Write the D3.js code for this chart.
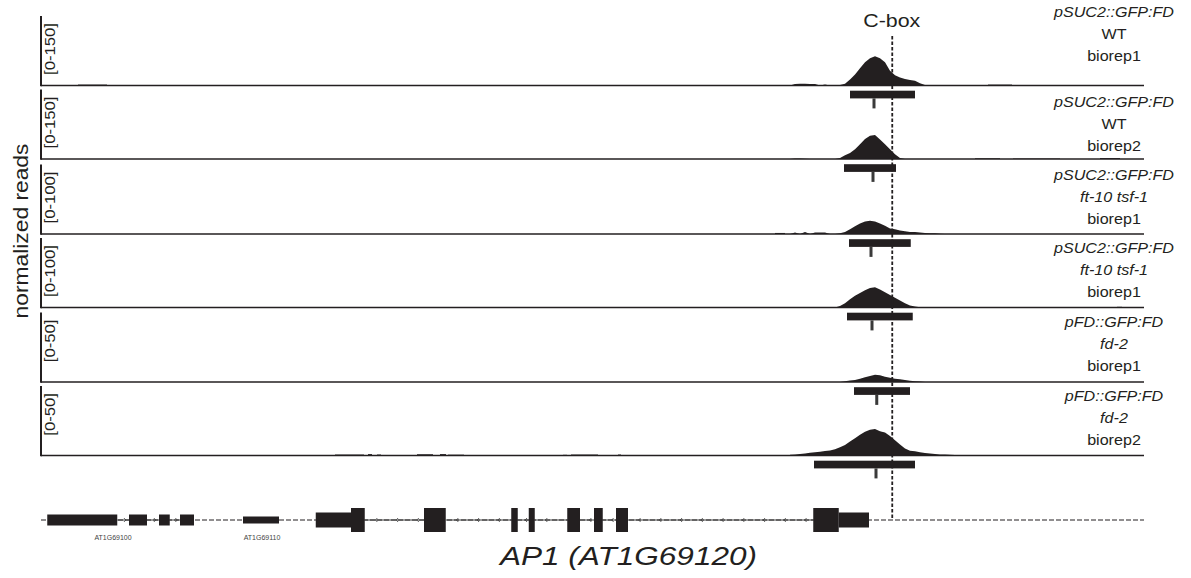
<!DOCTYPE html>
<html>
<head>
<meta charset="utf-8">
<script src="https://cdn.jsdelivr.net/npm/d3@7"></script>
<style>
  body { margin: 0; background: #fff; }
  svg { display: block; font-family: "Liberation Sans", Arial, Helvetica, sans-serif; }
</style>
</head>
<body>
<svg width="1191" height="578"></svg>
<script>
// browser window, bp relative to the left edge of the view
const regionBp = [0, 8824]

const scaleLabels = ['[0-150]', '[0-150]', '[0-100]', '[0-100]', '[0-50]', '[0-50]']
const scaleMax = [150, 150, 100, 100, 50, 50]
const constructs = ['pSUC2::GFP:FD', 'pSUC2::GFP:FD', 'pSUC2::GFP:FD', 'pSUC2::GFP:FD', 'pFD::GFP:FD', 'pFD::GFP:FD']
const genotypes = ['WT', 'WT', 'ft-10 tsf-1', 'ft-10 tsf-1', 'fd-2', 'fd-2']
const replicates = ['biorep1', 'biorep2', 'biorep1', 'biorep1', 'biorep1', 'biorep2']

// normalized reads around the AP1 promoter, 40 bp bins starting at binStart
const binStart = 5992, binSize = 40
const coverage = [
    [0, 3.5, 4, 4, 3.5, 3, 0, 2, 0, 0, 1, 4, 13, 24, 37, 50, 59, 63, 59, 50, 32, 22, 17, 14, 12, 10, 5, 1, 0, 0, 0, 0, 0, 0, 0],
    [0, 1, 1, 0.5, 0, 0, 0, 0, 0, 0, 2, 8, 13, 21, 32, 43, 50, 52, 42, 32, 21, 10, 2, 0, 0, 0, 0, 0, 0, 0, 0, 0, 0, 0, 0],
    [0, 2, 0, 3, 0, 2, 2, 2, 0, 0, 1, 3, 7, 11, 15, 18, 19, 18, 15, 12, 8, 7, 5, 4, 3, 3, 2, 1.5, 1, 1, 0.5, 0, 0, 0, 0],
    [0, 0, 0, 0, 0, 0, 0, 0, 0, 0, 2, 6, 12, 17, 21, 25, 28, 29, 26, 22, 18, 14, 10, 6, 3, 1.5, 0.5, 0, 0, 0, 0, 0, 0, 0, 0],
    [0, 0, 0, 0, 0, 0, 0, 0, 0, 0, 0, 0.5, 1, 1.5, 2.4, 3.4, 4.4, 5.2, 4.8, 3.8, 3, 2.4, 1.9, 1.4, 0.9, 0.6, 0.3, 0, 0, 0, 0, 0, 0, 0, 0],
    [0.5, 0.7, 1, 1.5, 2, 2.3, 2.7, 3.2, 3.6, 4.5, 6, 7.5, 10, 12.5, 15, 17, 18.5, 19, 17.5, 16.5, 14, 11, 8, 5, 3.5, 3, 2.4, 1.8, 1.4, 1.1, 0.8, 0.7, 0.5, 0.3, 0]
]
// scattered background reads elsewhere: [start, end, reads]
const background = [
    [[296, 528, 2], [2616, 2712, 1], [7576, 7768, 2]],
    [[7472, 7672, 1.5], [7776, 8152, 1], [8472, 8632, 2]],
    [[5872, 5952, 1.5]],
    [[8608, 8648, 1]],
    [],
    [[2352, 2584, 0.7], [2616, 2648, 1], [2688, 2720, 0.7], [3008, 3136, 0.9], [3192, 3240, 1],
     [3256, 3384, 0.6], [4176, 4208, 0.5], [4240, 4456, 0.7], [4616, 4640, 0.7]]
]
// called peaks: [start, end, summit]
const peaks = [
    [6472, 6992, 6664],
    [6424, 6840, 6656],
    [6464, 6958, 6640],
    [6448, 6974, 6648],
    [6504, 6952, 6686],
    [6184, 6992, 6680]
]
const cboxBp = 6810

const genes = [
    { name: 'AT1G69100', strand: '+', exons: [[50, 610, 'exon'], [704, 848, 'exon'], [944, 1030, 'exon'], [1112, 1224, 'exon']] },
    { name: 'AT1G69110', strand: '+', exons: [[1616, 1904, 'nc']] },
    { name: 'AT1G69120', strand: '-', exons: [[2198, 2480, 'utr'], [2480, 2590, 'cds'], [3064, 3238, 'cds'], [3762, 3814, 'cds'],
        [3902, 3950, 'cds'], [4210, 4312, 'cds'], [4424, 4494, 'cds'], [4600, 4696, 'cds'], [6178, 6382, 'cds'], [6382, 6624, 'utr']] }
]
const geneLabelBp = [576, 1768]

// layout
const trackTop = [16, 89.5, 164.5, 238, 312.5, 386]
const trackH = 69.5
const labelY = [17, 107, 179.5, 253, 326.5, 401]
const geneY = 520
const exonH = { cds: 24, utr: 15, exon: 11, nc: 7 }
const ink = '#231f20'

const svg = d3.select('svg')
const x = d3.scaleLinear().domain(regionBp).range([41, 1144])

function stretch(sel, k) {
    sel.each(function () {
        const w = this.getComputedTextLength()
        d3.select(this).attr('textLength', w * k).attr('lengthAdjust', 'spacingAndGlyphs')
    })
}

coverage.forEach((vals, i) => {
    const top = trackTop[i], bottom = top + trackH
    const y = d3.scaleLinear().domain([0, scaleMax[i]]).range([bottom, top])
    const g = svg.append('g')
    const pts = vals.map((v, j) => [binStart + j * binSize, v])

    g.append('path')
        .datum(pts)
        .attr('d', d3.area().x(d => x(d[0])).y0(bottom).y1(d => y(d[1])))
        .attr('fill', ink)

    g.selectAll('rect.bg')
        .data(background[i])
        .enter()
        .append('rect')
        .attr('x', d => x(d[0]))
        .attr('width', d => x(d[1]) - x(d[0]))
        .attr('y', d => y(d[2]))
        .attr('height', d => bottom - y(d[2]))
        .attr('fill', ink)

    g.append('line')
        .attr('x1', x.range()[0]).attr('x2', x.range()[1])
        .attr('y1', bottom).attr('y2', bottom)
        .attr('stroke', ink).attr('stroke-width', 1.5)
    g.append('line')
        .attr('x1', 41).attr('x2', 41)
        .attr('y1', top).attr('y2', bottom + 0.7)
        .attr('stroke', ink).attr('stroke-width', 2)

    g.append('text')
        .attr('transform', `translate(55,${top + 7}) rotate(-90)`)
        .attr('text-anchor', 'end')
        .attr('font-size', 14.5)
        .attr('fill', ink)
        .text(scaleLabels[i])
        .call(stretch, 1.15)

    const lines = [
        [constructs[i], true],
        [genotypes[i], genotypes[i] !== 'WT'],
        [replicates[i], false]
    ]
    g.selectAll('text.lab')
        .data(lines)
        .enter()
        .append('text')
        .attr('x', 1114)
        .attr('y', (d, k) => labelY[i] + k * 22)
        .attr('text-anchor', 'middle')
        .attr('font-size', 14)
        .attr('font-style', d => d[1] ? 'italic' : 'normal')
        .attr('fill', ink)
        .text(d => d[0])
        .call(stretch, 1.15)

    // peak call bar with summit tick
    const p = peaks[i]
    g.append('rect')
        .attr('x', x(p[0])).attr('width', x(p[1]) - x(p[0]))
        .attr('y', bottom + 5.2).attr('height', 7.7)
        .attr('fill', ink)
    g.append('rect')
        .attr('x', x(p[2]) - 1.5).attr('width', 3)
        .attr('y', bottom + 12.9).attr('height', 10)
        .attr('fill', '#3a3a3a')
})

// gene model
const gm = svg.append('g')
gm.append('line')
    .attr('x1', x.range()[0]).attr('x2', x.range()[1])
    .attr('y1', geneY).attr('y2', geneY)
    .attr('stroke', ink).attr('stroke-width', 1)
    .attr('stroke-dasharray', '5,2')

genes.forEach(gene => {
    const ex = gene.exons
    for (let k = 0; k < ex.length - 1; k++) {
        const a = ex[k][1], b = ex[k + 1][0]
        if (b <= a) continue
        gm.append('line')
            .attr('x1', x(a)).attr('x2', x(b))
            .attr('y1', geneY).attr('y2', geneY)
            .attr('stroke', '#3a3a3a').attr('stroke-width', 1)
        const marks = (b - a) < 166 ? [a + (b - a) * 0.7] : d3.range(a + 88, b - 20, 166)
        marks.forEach(m => {
            const mx = x(m), dir = gene.strand === '+' ? 1 : -1
            gm.append('path')
                .attr('d', `M${mx - 1.6 * dir},${geneY - 2}L${mx + 0.4 * dir},${geneY}L${mx - 1.6 * dir},${geneY + 2}`)
                .attr('fill', 'none').attr('stroke', '#3a3a3a').attr('stroke-width', 0.8)
        })
    }
    gm.selectAll(null)
        .data(ex)
        .enter()
        .append('rect')
        .attr('x', d => x(d[0]))
        .attr('width', d => x(d[1]) - x(d[0]))
        .attr('y', d => geneY - exonH[d[2]] / 2)
        .attr('height', d => exonH[d[2]])
        .attr('fill', ink)
})

gm.selectAll('text.gl')
    .data(geneLabelBp)
    .enter()
    .append('text')
    .attr('x', d => x(d))
    .attr('y', 540)
    .attr('text-anchor', 'middle')
    .attr('font-size', 7)
    .attr('fill', '#444')
    .text((d, k) => genes[k].name)

svg.append('text')
    .attr('x', 628.5).attr('y', 565)
    .attr('text-anchor', 'middle')
    .attr('font-size', 26)
    .attr('font-style', 'italic')
    .attr('fill', ink)
    .attr('textLength', 257).attr('lengthAdjust', 'spacingAndGlyphs')
    .text('AP1 (AT1G69120)')

// C-box marker
svg.append('line')
    .attr('x1', x(cboxBp)).attr('x2', x(cboxBp))
    .attr('y1', 36).attr('y2', geneY)
    .attr('stroke', ink).attr('stroke-width', 1.8)
    .attr('stroke-dasharray', '3.5,2')
svg.append('text')
    .attr('x', x(cboxBp) - 0.5).attr('y', 26.5)
    .attr('text-anchor', 'middle')
    .attr('font-size', 18.5)
    .attr('fill', ink)
    .attr('textLength', 57).attr('lengthAdjust', 'spacingAndGlyphs')
    .text('C-box')

svg.append('text')
    .attr('transform', 'translate(28,231) rotate(-90)')
    .attr('text-anchor', 'middle')
    .attr('font-size', 20)
    .attr('fill', ink)
    .text('normalized reads')
    .call(stretch, 1.14)
</script>
</body>
</html>
